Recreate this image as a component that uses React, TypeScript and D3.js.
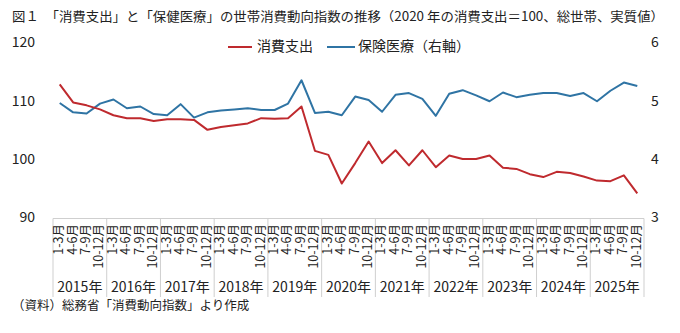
import React from "react";
import * as d3 from "d3";

const years = ["2015年", "2016年", "2017年", "2018年", "2019年", "2020年", "2021年", "2022年", "2023年", "2024年", "2025年"];
const quarterLabels = ["1-3月", "4-6月", "7-9月", "10-12月"];

// 消費支出 (left axis)
const consumption = [
  113.0, 109.9, 109.4, 108.7, 107.7, 107.2, 107.2, 106.7, 107.0, 107.0, 106.9,
  105.2, 105.7, 106.0, 106.3, 107.2, 107.1, 107.2, 109.2, 101.6, 100.9, 96.0,
  99.5, 103.2, 99.5, 101.7, 99.1, 101.7, 98.8, 100.8, 100.2, 100.2, 100.8,
  98.7, 98.5, 97.6, 97.1, 98.0, 97.8, 97.2, 96.5, 96.4, 97.4, 94.3,
];

// 保険医療 (right axis)
const medical = [
  4.98, 4.82, 4.80, 4.97, 5.04, 4.89, 4.92, 4.79, 4.77, 4.96, 4.73,
  4.82, 4.85, 4.87, 4.89, 4.86, 4.86, 4.97, 5.37, 4.81, 4.83, 4.77,
  5.09, 5.03, 4.83, 5.12, 5.15, 5.05, 4.76, 5.14, 5.20, 5.11, 5.01,
  5.16, 5.08, 5.12, 5.15, 5.15, 5.10, 5.15, 5.01, 5.19, 5.33, 5.27,
];

const leftTicks = [90, 100, 110, 120];
const rightTicks = [3, 4, 5, 6];

const seriesNames = ["消費支出", "保険医療（右軸）"];
const title = "図１　「消費支出」と「保健医療」の世帯消費動向指数の推移（2020 年の消費支出＝100、総世帯、実質値）";
const source = "（資料）総務省「消費動向指数」より作成";

const RED = "#bf2a2e";
const BLUE = "#2f74a4";
const FONT = "'Noto Sans CJK JP', 'Noto Sans', sans-serif";
const NUMFONT = "'Liberation Sans Narrow', 'Noto Sans CJK JP', sans-serif";

export default function App() {
  const W = 680;
  const H = 333;
  const left = 53;
  const right = 644;
  const top = 43.5;
  const bottom = 218.5;

  const n = consumption.length;
  const x = d3.scaleBand<number>().domain(d3.range(n)).range([left, right]).padding(0);
  const bw = x.bandwidth();
  const cx = (i: number) => (x(i) as number) + bw / 2;
  const yL = d3.scaleLinear().domain([90, 120]).range([bottom, top]);
  const yR = d3.scaleLinear().domain([3, 6]).range([bottom, top]);

  const lineL = d3.line<number>().x((_, i) => cx(i)).y((d) => yL(d));
  const lineR = d3.line<number>().x((_, i) => cx(i)).y((d) => yR(d));

  const sepBottom = 297;

  return (
    <svg width={W} height={H} style={{ position: "absolute", left: 0, top: 0, background: "#fff" }}>
      <text x={12} y={18} fontSize={12.6} fontFamily={FONT} fill="#222" dominantBaseline="middle" textLength={652} lengthAdjust="spacingAndGlyphs">
        {title}
      </text>

      {/* legend */}
      <line x1={228} x2={252} y1={47} y2={47} stroke={RED} strokeWidth={2} />
      <text x={257} y={47} fontSize={14} fontFamily={FONT} fill="#222" dominantBaseline="middle">{seriesNames[0]}</text>
      <line x1={327} x2={355} y1={47} y2={47} stroke={BLUE} strokeWidth={2} />
      <text x={358} y={47} fontSize={14} fontFamily={FONT} fill="#222" dominantBaseline="middle">{seriesNames[1]}</text>

      {/* left ticks */}
      {leftTicks.map((t) => (
        <text key={"l" + t} x={35} y={yL(t)} textAnchor="end" dominantBaseline="middle" fontSize={14} fontFamily={NUMFONT} fill="#222">
          {t}
        </text>
      ))}
      {rightTicks.map((t) => (
        <text key={"r" + t} x={651} y={yR(t)} textAnchor="start" dominantBaseline="middle" fontSize={14} fontFamily={NUMFONT} fill="#222">
          {t}
        </text>
      ))}

      {/* x axis */}
      <line x1={left} x2={right} y1={bottom} y2={bottom} stroke="#cfcfcf" strokeWidth={1} />
      {d3.range(years.length + 1).map((k) => {
        const xx = k < years.length ? (x(k * 4) as number) : right;
        return <line key={"s" + k} x1={xx} x2={xx} y1={bottom} y2={sepBottom} stroke="#cfcfcf" strokeWidth={1} />;
      })}
      {d3.range(n).map((i) => (
        <text
          key={"q" + i}
          transform={`translate(${cx(i)},${224}) rotate(-90)`}
          textAnchor="end"
          dominantBaseline="middle"
          fontSize={12.5}
          fontFamily={NUMFONT}
          fill="#222"
        >
          {quarterLabels[i % 4]}
        </text>
      ))}
      {years.map((yname, k) => (
        <text key={"y" + k} x={(x(k * 4) as number) + bw * 2} y={288} textAnchor="middle" dominantBaseline="middle" fontSize={14} fontFamily={NUMFONT} fill="#222">
          {yname}
        </text>
      ))}

      {/* lines */}
      <path d={lineR(medical) || ""} fill="none" stroke={BLUE} strokeWidth={2} strokeLinejoin="round" />
      <path d={lineL(consumption) || ""} fill="none" stroke={RED} strokeWidth={2} strokeLinejoin="round" />

      <text x={12} y={307} fontSize={12.5} fontFamily={FONT} fill="#222" dominantBaseline="middle">{source}</text>
    </svg>
  );
}
